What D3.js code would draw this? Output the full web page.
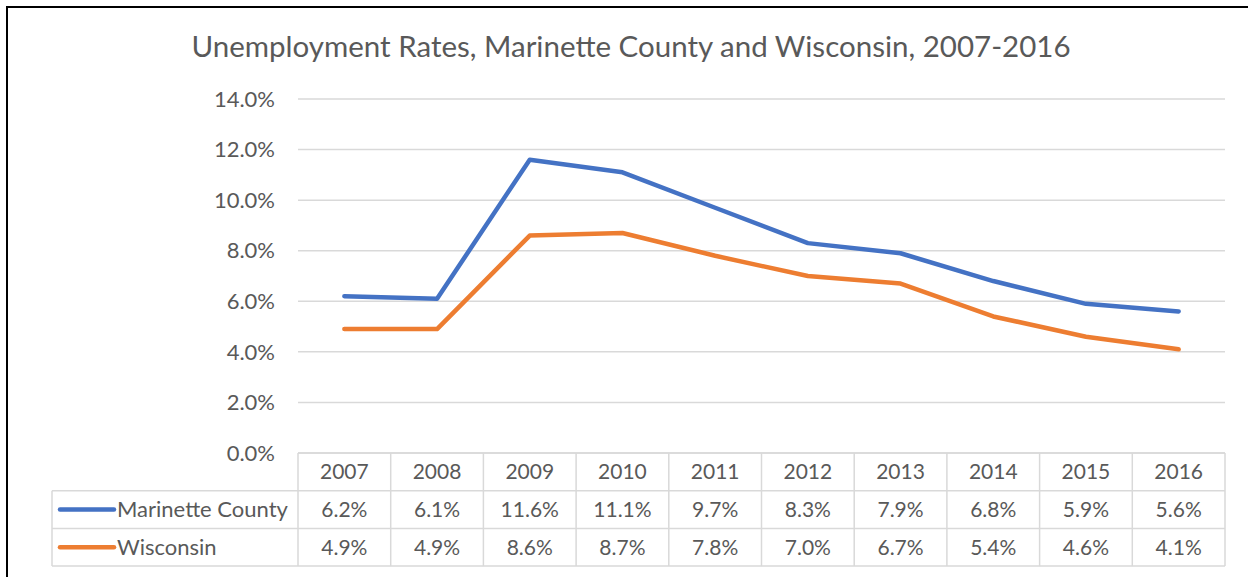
<!DOCTYPE html>
<html>
<head>
<meta charset="utf-8">
<script src="https://cdn.jsdelivr.net/npm/d3@7"></script>
<style>
  body { margin: 0; background: #fff; }
  text { font-family: Lato, "Open Sans", sans-serif; fill: #595959; }
</style>
</head>
<body>
<div id="chart"></div>
<script>
// Chart data
const years = ["2007","2008","2009","2010","2011","2012","2013","2014","2015","2016"]
const marinette = [6.2, 6.1, 11.6, 11.1, 9.7, 8.3, 7.9, 6.8, 5.9, 5.6]
const wisconsin = [4.9, 4.9, 8.6, 8.7, 7.8, 7.0, 6.7, 5.4, 4.6, 4.1]
const seriesNames = ["Marinette County", "Wisconsin"]
const yTicks = [0, 2, 4, 6, 8, 10, 12, 14]

const WIDTH = 1253
const HEIGHT = 577
const PLOT = {LEFT:298, RIGHT:1225, TOP:99, BOTTOM:453}
const TABLE = {LEFT:52, ROW:37.7}
const COLOURS = ["#4472C4", "#ED7D31"]

let svg = d3.select("#chart").append("svg")
    .attr("width", WIDTH)
    .attr("height", HEIGHT)

// outer border (left and top only visible)
svg.append("path")
    .attr("d", `M7,${HEIGHT} V7 H1248`)
    .attr("fill", "none")
    .attr("stroke", "#000")
    .attr("stroke-width", 2)

// title
svg.append("text")
    .attr("x", 631)
    .attr("y", 57)
    .attr("text-anchor", "middle")
    .style("font-size", "29.5px")
    .text("Unemployment Rates, Marinette County and Wisconsin, 2007-2016")

// scales
let x = d3.scaleBand().domain(years).range([PLOT.LEFT, PLOT.RIGHT])
let y = d3.scaleLinear().domain([0, 14]).range([PLOT.BOTTOM, PLOT.TOP])

// gridlines
svg.append("g")
    .selectAll("line")
    .data(yTicks)
    .enter()
    .append("line")
    .attr("x1", PLOT.LEFT)
    .attr("x2", PLOT.RIGHT)
    .attr("y1", d=>y(d))
    .attr("y2", d=>y(d))
    .attr("stroke", "#d9d9d9")
    .attr("stroke-width", 1.5)

// y axis labels
svg.append("g")
    .selectAll("text")
    .data(yTicks)
    .enter()
    .append("text")
    .attr("x", 275)
    .attr("y", d=>y(d))
    .attr("dy", "0.35em")
    .attr("text-anchor", "end")
    .style("font-size", "22px")
    .text(d=>d.toFixed(1) + "%")

// lines
let line = d3.line()
    .x((d,i)=>x(years[i]) + x.bandwidth()/2)
    .y(d=>y(d))

svg.append("g")
    .selectAll("path")
    .data([marinette, wisconsin])
    .enter()
    .append("path")
    .attr("d", line)
    .attr("fill", "none")
    .attr("stroke", (d,i)=>COLOURS[i])
    .attr("stroke-width", 4.5)
    .attr("stroke-linejoin", "round")
    .attr("stroke-linecap", "round")

// data table
const rowY = i => PLOT.BOTTOM + i*TABLE.ROW
let table = svg.append("g")
    .attr("stroke", "#d9d9d9")
    .attr("stroke-width", 1.5)

// horizontal table lines
table.append("line").attr("x1", PLOT.LEFT).attr("x2", PLOT.RIGHT).attr("y1", rowY(0)).attr("y2", rowY(0))
d3.range(1, 4).forEach(i => {
    table.append("line")
        .attr("x1", TABLE.LEFT).attr("x2", PLOT.RIGHT)
        .attr("y1", rowY(i)).attr("y2", rowY(i))
})
// vertical table lines
table.append("line").attr("x1", TABLE.LEFT).attr("x2", TABLE.LEFT).attr("y1", rowY(1)).attr("y2", rowY(3))
table.selectAll("line.v")
    .data(years.concat(["end"]))
    .enter()
    .append("line")
    .attr("class", "v")
    .attr("x1", (d,i)=>PLOT.LEFT + i*x.bandwidth())
    .attr("x2", (d,i)=>PLOT.LEFT + i*x.bandwidth())
    .attr("y1", rowY(0))
    .attr("y2", rowY(3))

// header years
svg.append("g")
    .selectAll("text")
    .data(years)
    .enter()
    .append("text")
    .attr("x", d=>x(d) + x.bandwidth()/2)
    .attr("y", (rowY(0)+rowY(1))/2)
    .attr("dy", "0.35em")
    .attr("text-anchor", "middle")
    .style("font-size", "21px")
    .text(d=>d)

// values rows
;[marinette, wisconsin].forEach((vals, r) => {
    let cy = (rowY(r+1) + rowY(r+2))/2
    svg.append("g")
        .selectAll("text")
        .data(vals)
        .enter()
        .append("text")
        .attr("x", (d,i)=>x(years[i]) + x.bandwidth()/2)
        .attr("y", cy)
        .attr("dy", "0.35em")
        .attr("text-anchor", "middle")
        .style("font-size", "21px")
        .text(d=>d.toFixed(1) + "%")

    // legend key
    svg.append("line")
        .attr("x1", 60).attr("x2", 114)
        .attr("y1", cy).attr("y2", cy)
        .attr("stroke", COLOURS[r])
        .attr("stroke-width", 4.5)
        .attr("stroke-linecap", "round")
    svg.append("text")
        .attr("x", 117)
        .attr("y", cy)
        .attr("dy", "0.35em")
        .style("font-size", "22px")
        .text(seriesNames[r])
})
</script>
</body>
</html>
